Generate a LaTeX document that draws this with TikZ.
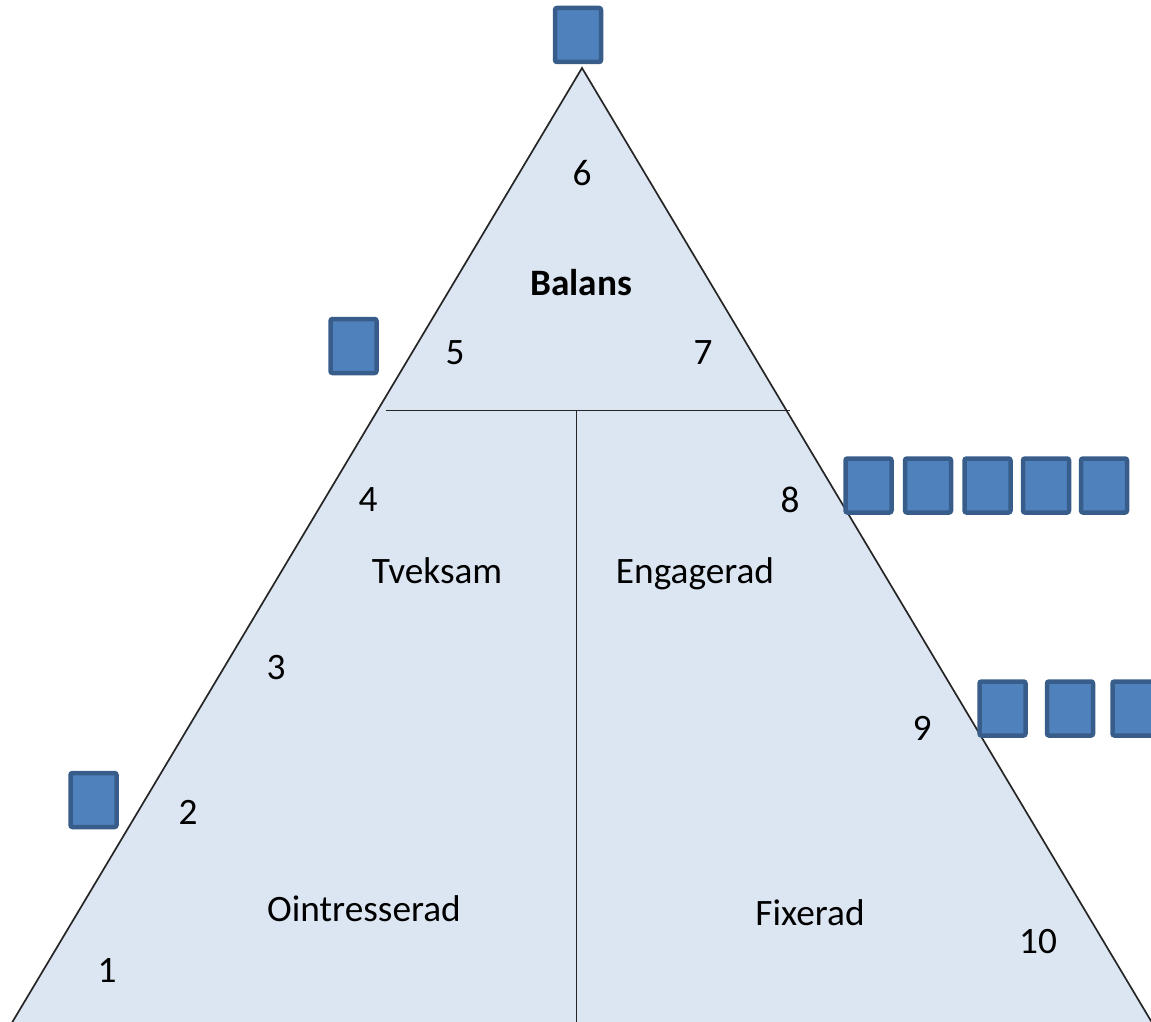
\documentclass[tikz,border=0pt]{standalone}
\usepackage{fontspec}
\setmainfont{Carlito}
\definecolor{trifill}{HTML}{DCE6F2}
\definecolor{sqfill}{HTML}{4F81BD}
\definecolor{sqborder}{HTML}{385D8A}
\begin{document}
\begin{tikzpicture}[x=1pt,y=-1pt,
  sq/.style={draw=sqborder, fill=sqfill, line width=4.5pt, rounded corners=2pt, minimum width=46pt, minimum height=54pt, inner sep=0pt},
  lbl/.style={font=\fontsize{37.3}{41}\selectfont, inner sep=0pt, text=black},
  word/.style={lbl, anchor=base},
  edge/.style={line width=1.7pt, draw=black!85}]
\useasboundingbox (0,0) rectangle (1151,1022);
\clip (0,0) rectangle (1151,1022);
\coordinate (A) at (582,68);
\coordinate (B) at (7.6,1030);
\coordinate (C) at (1156.4,1030);
\coordinate (HL) at (386,410.5);
\coordinate (HR) at (790,410.5);
\coordinate (VT) at (576.5,410.5);
\coordinate (VB) at (576.5,1030);
\fill[trifill] (A) -- (B) -- (C) -- cycle;
\draw[edge] (B) -- (A) -- (C);
\draw[edge] (HL) -- (HR);
\draw[edge] (VT) -- (VB);
% squares
\node[sq] (s0) at (578,35) {};
\node[sq] (s5) at (353.5,346) {};
\node[sq] (s2) at (93.5,800) {};
\node[sq] (s8a) at (868.5,485.5) {};
\node[sq] (s8b) at (928,485.5) {};
\node[sq] (s8c) at (987.5,485.5) {};
\node[sq] (s8d) at (1046,485.5) {};
\node[sq] (s8e) at (1104,485.5) {};
\node[sq] (s9a) at (1002.5,708.5) {};
\node[sq] (s9b) at (1070,708.5) {};
\node[sq] (s9c) at (1135.5,708.5) {};
% labels
\node[lbl] (n6) at (582,173) {6};
\node[word, font=\fontsize{37.3}{41}\selectfont\bfseries] (bal) at (581,295.7) {Balans};
\node[lbl] (n5) at (455,353) {5};
\node[lbl] (n7) at (703,353) {7};
\node[lbl] (n4) at (368,500) {4};
\node[lbl] (n8) at (790,500) {8};
\node[word] (tve) at (437,583.7) {Tveksam};
\node[word] (eng) at (695,583.7) {Engagerad};
\node[lbl] (n3) at (276,668) {3};
\node[lbl] (n9) at (922,728) {9};
\node[lbl] (n2) at (188,812) {2};
\node[word] (oin) at (364,921.7) {Ointresserad};
\node[word] (fix) at (810,925.3) {Fixerad};
\node[word] (n10) at (1038,953.7) {10};
\node[lbl] (n1) at (107,970) {1};
\end{tikzpicture}
\end{document}
